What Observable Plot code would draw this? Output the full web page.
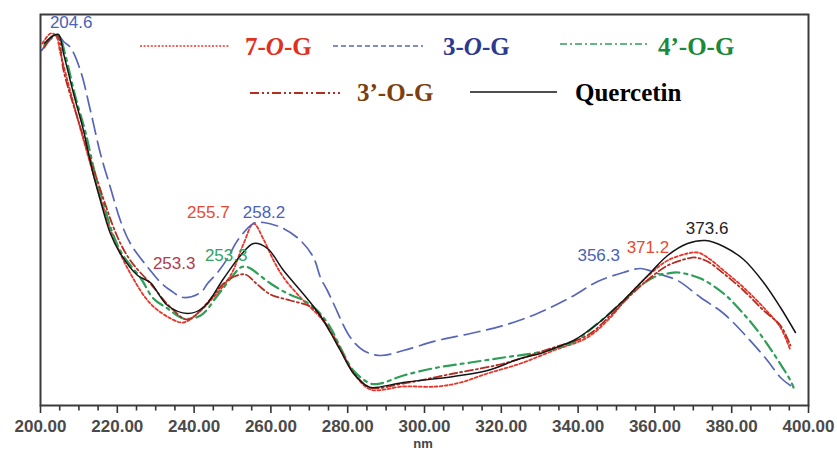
<!DOCTYPE html>
<html>
<head>
<meta charset="utf-8">
<script src="https://cdn.jsdelivr.net/npm/d3@7"></script>
<script src="https://cdn.jsdelivr.net/npm/@observablehq/plot@0.6"></script>
<style>
  html, body { margin: 0; padding: 0; background: #fff; }
  #chart { position: relative; width: 837px; height: 452px; }
</style>
</head>
<body>
<div id="chart"></div>
<script>
// ---- data: [wavelength nm, absorbance (arbitrary units)] ----
const quercetin = [[201.0,3.62],[203.4,3.70],[204.7,3.71],[206.0,3.52],[208.6,3.12],[211.2,2.75],[213.5,2.35],[215.6,2.05],[218.2,1.72],[220.8,1.52],[225.3,1.30],[228.6,1.23],[233.1,1.00],[238.3,0.92],[242.4,0.98],[247.7,1.27],[252.1,1.50],[255.5,1.62],[259.1,1.57],[263.3,1.35],[267.7,1.15],[271.1,0.99],[273.5,0.86],[275.5,0.73],[278.1,0.55],[281.5,0.32],[284.1,0.22],[285.9,0.18],[294.5,0.23],[307.6,0.29],[316.4,0.35],[325.0,0.47],[330.2,0.52],[333.6,0.57],[338.8,0.65],[345.8,0.84],[351.8,1.05],[358.9,1.33],[363.3,1.50],[368.5,1.62],[373.2,1.65],[377.9,1.59],[383.1,1.46],[388.3,1.23],[392.7,0.98],[396.6,0.73]];

const g7 = [[200.5,3.62],[202.6,3.72],[204.0,3.70],[205.2,3.52],[208.6,3.02],[212.2,2.52],[215.6,2.08],[219.0,1.68],[223.4,1.32],[228.6,1.02],[233.9,0.87],[237.2,0.83],[240.9,0.92],[244.3,1.05],[249.5,1.30],[252.9,1.62],[255.5,1.82],[258.1,1.66],[260.7,1.45],[263.3,1.28],[267.7,1.08],[272.9,0.88],[275.5,0.75],[278.1,0.57],[281.5,0.33],[285.9,0.16],[294.5,0.19],[303.4,0.19],[309.4,0.23],[316.4,0.32],[325.0,0.42],[333.6,0.55],[342.4,0.68],[348.4,0.88],[353.6,1.12],[358.9,1.32],[363.3,1.45],[368.5,1.52],[371.1,1.53],[373.7,1.48],[377.9,1.35],[383.1,1.18],[388.3,0.98],[392.7,0.78],[395.3,0.55]];

const g3 = [[200.3,3.55],[202.6,3.66],[204.6,3.70],[206.0,3.64],[207.8,3.58],[210.4,3.35],[213.0,2.95],[215.6,2.52],[218.2,2.18],[220.8,1.85],[223.4,1.62],[228.6,1.35],[231.3,1.23],[233.9,1.15],[237.2,1.08],[241.7,1.13],[243.5,1.22],[246.1,1.33],[248.7,1.47],[251.3,1.65],[255.5,1.82],[258.1,1.83],[263.3,1.77],[267.7,1.65],[271.1,1.48],[272.9,1.28],[274.7,1.15],[276.3,1.02],[280.7,0.68],[284.1,0.55],[288.5,0.50],[294.5,0.55],[303.4,0.65],[312.0,0.72],[320.6,0.80],[329.4,0.92],[338.0,1.08],[345.1,1.24],[351.8,1.33],[356.3,1.37],[360.7,1.32],[365.9,1.25],[371.9,1.08],[377.9,0.92],[384.1,0.68],[389.3,0.45],[392.7,0.28],[395.3,0.20]];

const g4p = [[201.0,3.60],[203.5,3.70],[205.0,3.68],[206.5,3.50],[209.0,3.10],[211.8,2.72],[214.0,2.35],[216.2,2.05],[218.8,1.72],[221.5,1.50],[226.0,1.28],[229.4,1.07],[233.1,0.97],[237.2,0.87],[241.7,0.90],[246.1,1.10],[249.5,1.27],[252.1,1.38],[253.3,1.39],[254.7,1.37],[259.9,1.22],[264.3,1.12],[268.5,1.05],[272.1,0.95],[275.5,0.78],[278.1,0.58],[281.5,0.35],[285.9,0.22],[288.5,0.22],[294.5,0.30],[303.4,0.38],[312.0,0.43],[320.6,0.48],[329.4,0.53],[338.0,0.62],[345.1,0.82],[351.0,1.02],[356.3,1.20],[360.7,1.30],[363.3,1.32],[365.9,1.33],[371.9,1.27],[377.9,1.12],[382.3,0.95],[386.7,0.75],[390.9,0.52],[395.3,0.25],[396.1,0.18]];

const g3p = [[201.0,3.58],[203.4,3.70],[204.5,3.69],[206.0,3.35],[210.4,2.78],[214.8,2.25],[220.1,1.68],[223.4,1.45],[228.6,1.22],[233.9,0.98],[238.3,0.86],[243.5,1.03],[247.7,1.22],[250.5,1.29],[253.3,1.31],[256.5,1.21],[259.9,1.11],[265.1,1.05],[270.3,0.99],[272.9,0.90],[275.5,0.74],[278.1,0.56],[281.5,0.33],[285.9,0.18],[294.5,0.22],[307.6,0.32],[320.6,0.42],[333.6,0.58],[342.4,0.70],[348.4,0.90],[353.6,1.10],[358.9,1.28],[363.3,1.40],[368.5,1.47],[370.5,1.48],[373.7,1.44],[377.9,1.32],[383.1,1.15],[388.3,0.95],[392.7,0.80],[395.3,0.60]];

const seriesNames = ["7-O-G", "3-O-G", "4’-O-G", "3’-O-G", "Quercetin"];
const peakLabels = ["204.6", "255.7", "258.2", "253.3", "253.3", "356.3", "371.2", "373.6"];
const peakSeries = ["3-O-G", "7-O-G", "3-O-G", "3’-O-G", "4’-O-G", "3-O-G", "7-O-G", "Quercetin"];
const majorTicks = [200, 220, 240, 260, 280, 300, 320, 340, 360, 380, 400];
const minorTicks = [205, 210, 215, 225, 230, 235, 245, 250, 255, 265, 270, 275, 285, 290, 295, 305, 310, 315, 325, 330, 335, 345, 350, 355, 365, 370, 375, 385, 390, 395];
const xLabel = "nm";

// ---- styles ----
const seriesData = {"7-O-G": g7, "3-O-G": g3, "4’-O-G": g4p, "3’-O-G": g3p, "Quercetin": quercetin};
const styles = {
  "7-O-G":    {stroke: "#e8362a", width: 1.8, dash: "3,2.2"},
  "3-O-G":    {stroke: "#5766b8", width: 1.7, dash: "16,7"},
  "4’-O-G":   {stroke: "#2e9e58", width: 2.2, dash: "12,5,3,5"},
  "3’-O-G":   {stroke: "#b32d22", width: 1.8, dash: "8,3,2,3"},
  "Quercetin":{stroke: "#151515", width: 1.5, dash: null}
};
const labelStyle = [
  {fill: "#4a62b8", dx: 13, dy: -13},
  {fill: "#e84a30", dx: -46, dy: -11},
  {fill: "#4a62b8", dx: 0, dy: -10},
  {fill: "#b03c4c", dx: -71, dy: -11},
  {fill: "#2ea462", dx: -19, dy: -11},
  {fill: "#4a62b8", dx: -42, dy: -13},
  {fill: "#e84a30", dx: -50, dy: -5},
  {fill: "#222222", dx: 0, dy: -12}
];

function nearestValue(series, nm) {
  let best = series[0];
  for (const p of series) if (Math.abs(p[0] - nm) < Math.abs(best[0] - nm)) best = p;
  return best[1];
}

const lineMarks = seriesNames.map(name => {
  const s = styles[name];
  const opts = {x: d => d[0], y: d => d[1], stroke: s.stroke, strokeWidth: s.width, curve: "catmull-rom"};
  if (s.dash) opts.strokeDasharray = s.dash;
  return Plot.line(seriesData[name], opts);
});

const labelMarks = peakLabels.map((t, i) => {
  const nm = +t;
  const row = {x: nm, y: nearestValue(seriesData[peakSeries[i]], nm), text: t};
  const st = labelStyle[i];
  return Plot.text([row], {x: "x", y: "y", text: "text", fill: st.fill, dx: st.dx, dy: st.dy,
    fontSize: 17, textAnchor: "middle", style: "letter-spacing:1.3px"});
});

const plot = Plot.plot({
  width: 837,
  height: 452,
  marginLeft: 40,
  marginRight: 29,
  marginTop: 14,
  marginBottom: 47,
  style: {fontFamily: "'Liberation Sans', Arial, sans-serif", background: "#fff", overflow: "visible"},
  x: {domain: [200, 400]},
  y: {domain: [0, 3.91], axis: null},
  marks: [
    ...lineMarks,
    ...labelMarks,
    Plot.axisX({ticks: minorTicks, tickSize: 5.5, tickFormat: () => "", label: null, stroke: "#333", strokeWidth: 1.6}),
    Plot.axisX({ticks: majorTicks, tickSize: 8, tickPadding: 6, tickFormat: d => d.toFixed(2), label: null,
      fontSize: 17, fontWeight: "bold", fill: "#4a4a4a", stroke: "#333", strokeWidth: 1.6}),
    Plot.frame({stroke: "#3a3a3a", strokeWidth: 2})
  ]
});

document.getElementById("chart").appendChild(plot);

// ---- legend and axis title drawn into the SVG ----
const svg = d3.select(plot);
const legendItems = [
  {name: "7-O-G", x1: 140, x2: 230, ly: 46, tx: 245, ty: 55, color: "#e0301e", dash: "2,1.6", w: 1.4, parts: [["7-",""],["O","italic"],["-G",""]]},
  {name: "3-O-G", x1: 333, x2: 423, ly: 46, tx: 443, ty: 55, color: "#2b3990", dash: "5,3", w: 1.4, parts: [["3-",""],["O","italic"],["-G",""]]},
  {name: "4’-O-G", x1: 560, x2: 650, ly: 44, tx: 658, ty: 55, color: "#1a8a3a", dash: "7,3,2,3", w: 1.6, parts: [["4’-O-G",""]]},
  {name: "3’-O-G", x1: 250, x2: 340, ly: 93, tx: 357, ty: 101, color: "#7b3f10", dash: "9,3,2,3,2,3", w: 1.8, parts: [["3’-O-G",""]]},
  {name: "Quercetin", x1: 470, x2: 557, ly: 92, tx: 575, ty: 101, color: "#000", dash: null, w: 1.6, parts: [["Quercetin",""]]}
];
const lg = svg.append("g").attr("text-anchor", "start");
for (const it of legendItems) {
  const st = styles[it.name];
  const ln = lg.append("line").attr("x1", it.x1).attr("x2", it.x2).attr("y1", it.ly).attr("y2", it.ly)
    .attr("stroke", st.stroke).attr("stroke-width", it.w);
  if (it.dash) ln.attr("stroke-dasharray", it.dash);
  const t = lg.append("text").attr("x", it.tx).attr("y", it.ty).attr("text-anchor", "start")
    .attr("font-family", "'Liberation Serif', 'Times New Roman', serif")
    .attr("font-weight", "bold").attr("font-size", 25).attr("fill", it.color);
  for (const [s, fs] of it.parts) {
    const sp = t.append("tspan").text(s);
    if (fs) sp.attr("font-style", fs);
  }
}
svg.append("text").attr("x", 423).attr("y", 448).attr("text-anchor", "middle")
  .attr("font-family", "'Liberation Sans', Arial, sans-serif").attr("font-weight", "bold")
  .attr("font-size", 13).attr("fill", "#444").text(xLabel);
</script>
</body>
</html>
